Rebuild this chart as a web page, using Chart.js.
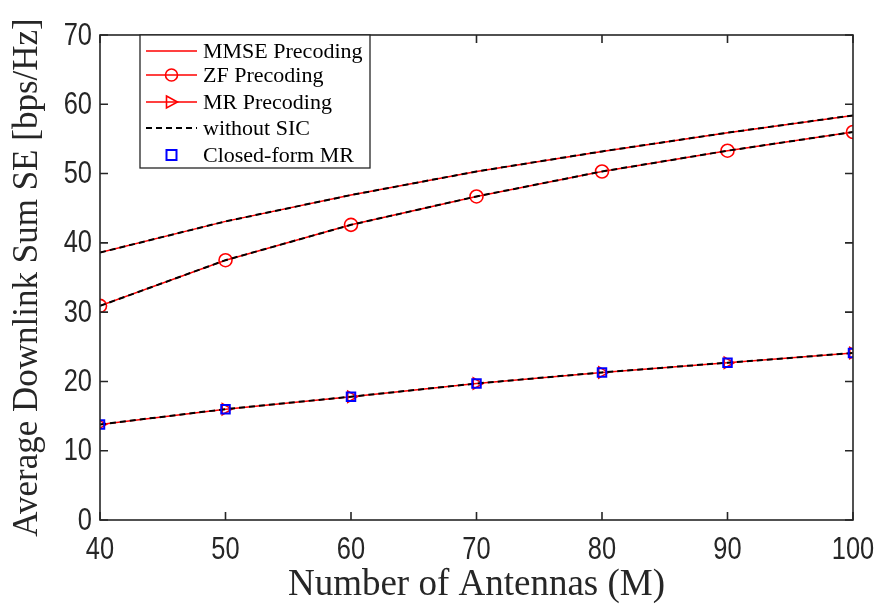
<!DOCTYPE html>
<html>
<head>
<meta charset="utf-8">
<script src="https://cdn.jsdelivr.net/npm/chart.js@4/dist/chart.umd.min.js"></script>
<style>
  html, body { margin: 0; padding: 0; background: #fff; }
  #wrap { width: 881px; height: 607px; position: relative; }
</style>
</head>
<body>
<div id="wrap"><canvas id="seChart" width="881" height="607"></canvas></div>
<script>
// Number of antennas on the x axis
const antennas = [40, 50, 60, 70, 80, 90, 100];
const xTicks = [40, 50, 60, 70, 80, 90, 100];
const yTicks = [0, 10, 20, 30, 40, 50, 60, 70];

// Sum SE with SIC
const mmseSE = [38.6, 43.1, 46.9, 50.3, 53.2, 55.9, 58.4];
const zfSE = [30.9, 37.5, 42.6, 46.7, 50.3, 53.3, 56.0];
const mrSE = [13.8, 16.0, 17.8, 19.7, 21.3, 22.7, 24.1];

// Without SIC - these sit right on top of the curves above
const mmseNoSicSE = [38.6, 43.1, 46.9, 50.3, 53.2, 55.9, 58.4];
const zfNoSicSE = [30.9, 37.5, 42.6, 46.7, 50.3, 53.3, 56.0];
const mrNoSicSE = [13.8, 16.0, 17.8, 19.7, 21.3, 22.7, 24.1];

// Closed-form MR markers
const closedFormMrSE = [13.8, 16.0, 17.8, 19.7, 21.3, 22.7, 24.1];

const legendLabels = ['MMSE Precoding', 'ZF Precoding', 'MR Precoding', 'without SIC', 'Closed-form MR'];

const AXIS_COLOR = '#262626';
const TICK_FONT = '"Liberation Sans", Arial, sans-serif';
const SERIF_FONT = '"Liberation Serif", "Times New Roman", serif';

function toPoints(values) {
  return antennas.map((m, i) => ({ x: m, y: values[i] }));
}

function redLine(values, pointStyle, rotation) {
  return {
    data: toPoints(values),
    borderColor: '#ff0000',
    backgroundColor: 'rgba(0,0,0,0)',
    borderWidth: 1.5,
    pointStyle: pointStyle || false,
    pointRadius: pointStyle ? 6.5 : 0,
    pointRotation: rotation || 0,
    pointBorderColor: '#ff0000',
    pointBorderWidth: 1.6,
    pointBackgroundColor: 'rgba(0,0,0,0)',
    tension: 0
  };
}

function blackDashed(values) {
  return {
    data: toPoints(values),
    borderColor: '#000000',
    borderWidth: 2,
    borderDash: [6, 4],
    pointRadius: 0,
    fill: false,
    tension: 0
  };
}

// narrow helvetica look: squeeze the digits a bit horizontally
function drawNarrowText(ctx, text, x, y, align) {
  const squeeze = 0.82;
  ctx.save();
  ctx.translate(x, y);
  ctx.scale(squeeze, 1);
  ctx.textAlign = align;
  ctx.fillText(text, 0, 0);
  ctx.restore();
}

// Frame with inward ticks on all four sides, MATLAB style, plus tick labels
const boxPlugin = {
  id: 'boxPlugin',
  afterDatasetsDraw(chart) {
    const { ctx, chartArea: a, scales } = chart;
    const tl = 8;
    ctx.save();
    ctx.strokeStyle = AXIS_COLOR;
    ctx.lineWidth = 1.6;
    ctx.strokeRect(a.left, a.top, a.right - a.left, a.bottom - a.top);
    ctx.beginPath();
    xTicks.forEach(v => {
      const px = scales.x.getPixelForValue(v);
      ctx.moveTo(px, a.bottom); ctx.lineTo(px, a.bottom - tl);
      ctx.moveTo(px, a.top); ctx.lineTo(px, a.top + tl);
    });
    yTicks.forEach(v => {
      const py = scales.y.getPixelForValue(v);
      ctx.moveTo(a.left, py); ctx.lineTo(a.left + tl, py);
      ctx.moveTo(a.right, py); ctx.lineTo(a.right - tl, py);
    });
    ctx.stroke();

    ctx.fillStyle = AXIS_COLOR;
    ctx.font = '31px ' + TICK_FONT;
    ctx.textBaseline = 'middle';
    xTicks.forEach(v => {
      drawNarrowText(ctx, String(v), scales.x.getPixelForValue(v), a.bottom + 30, 'center');
    });
    yTicks.forEach(v => {
      drawNarrowText(ctx, String(v), a.left - 8, scales.y.getPixelForValue(v) + 1, 'right');
    });
    ctx.restore();
  }
};

// Legend box in the upper left corner of the axes
const legendPlugin = {
  id: 'legendPlugin',
  afterDraw(chart) {
    const { ctx, chartArea: a } = chart;
    const boxX = a.left + 40, boxY = a.top, boxW = 230, boxH = 133;
    const rowY = [16, 40, 67, 93, 120];
    const x0 = boxX + 6, x1 = boxX + 57, tx = boxX + 63;
    ctx.save();
    ctx.fillStyle = '#ffffff';
    ctx.fillRect(boxX, boxY, boxW, boxH);
    ctx.strokeStyle = AXIS_COLOR;
    ctx.lineWidth = 1.3;
    ctx.strokeRect(boxX, boxY, boxW, boxH);

    rowY.forEach((dy, i) => {
      const y = boxY + dy;
      const mid = (x0 + x1) / 2;
      ctx.setLineDash([]);
      if (i < 3) {
        ctx.strokeStyle = '#ff0000';
        ctx.lineWidth = 1.5;
        ctx.beginPath(); ctx.moveTo(x0, y); ctx.lineTo(x1, y); ctx.stroke();
        if (i === 1) {
          ctx.lineWidth = 1.6;
          ctx.beginPath(); ctx.arc(mid, y, 6, 0, Math.PI * 2); ctx.stroke();
        } else if (i === 2) {
          ctx.lineWidth = 1.6;
          ctx.beginPath();
          ctx.moveTo(mid - 5, y - 6); ctx.lineTo(mid + 6, y); ctx.lineTo(mid - 5, y + 6); ctx.closePath();
          ctx.stroke();
        }
      } else if (i === 3) {
        ctx.strokeStyle = '#000000';
        ctx.lineWidth = 2;
        ctx.setLineDash([6, 4]);
        ctx.beginPath(); ctx.moveTo(x0, y); ctx.lineTo(x1, y); ctx.stroke();
        ctx.setLineDash([]);
      } else {
        ctx.strokeStyle = '#0000ff';
        ctx.lineWidth = 2;
        ctx.strokeRect(mid - 5, y - 5, 10, 10);
      }
      ctx.fillStyle = '#000000';
      ctx.font = '22px ' + SERIF_FONT;
      ctx.textBaseline = 'middle';
      ctx.textAlign = 'left';
      ctx.fillText(legendLabels[i], tx, y + 1);
    });
    ctx.restore();
  }
};

const ctx = document.getElementById('seChart').getContext('2d');
new Chart(ctx, {
  type: 'line',
  data: {
    datasets: [
      // first dataset is drawn last (on top)
      {
        data: toPoints(closedFormMrSE),
        showLine: false,
        pointStyle: 'rect',
        pointRadius: 6,
        pointBorderColor: '#0000ff',
        pointBorderWidth: 2,
        pointBackgroundColor: 'rgba(0,0,0,0)'
      },
      blackDashed(mmseNoSicSE),
      blackDashed(zfNoSicSE),
      blackDashed(mrNoSicSE),
      redLine(mmseSE),
      redLine(zfSE, 'circle'),
      redLine(mrSE, 'triangle', 90)
    ]
  },
  options: {
    responsive: false,
    animation: false,
    events: [],
    layout: { padding: { left: 0, right: 28, top: 35, bottom: 0 } },
    plugins: {
      legend: { display: false },
      tooltip: { enabled: false }
    },
    scales: {
      x: {
        type: 'linear',
        min: 40,
        max: 100,
        afterBuildTicks(scale) { scale.ticks = xTicks.map(v => ({ value: v })); },
        afterFit(scale) {
          scale.height = 87;
          scale.paddingLeft = 0;
          scale.paddingRight = 0;
        },
        grid: { display: false, drawTicks: false },
        border: { display: false },
        ticks: { display: false },
        title: {
          display: true,
          text: 'Number of Antennas (M)',
          color: AXIS_COLOR,
          font: { family: SERIF_FONT, size: 37 },
          padding: { top: 0, bottom: 0 }
        }
      },
      y: {
        min: 0,
        max: 70,
        afterBuildTicks(scale) { scale.ticks = yTicks.map(v => ({ value: v })); },
        afterFit(scale) {
          scale.width = 100;
          scale.paddingTop = 0;
          scale.paddingBottom = 0;
        },
        grid: { display: false, drawTicks: false },
        border: { display: false },
        ticks: { display: false },
        title: {
          display: true,
          text: 'Average Downlink Sum SE [bps/Hz]',
          color: AXIS_COLOR,
          font: { family: SERIF_FONT, size: 35 },
          padding: { top: 7, bottom: 0 }
        }
      }
    }
  },
  plugins: [boxPlugin, legendPlugin]
});
</script>
</body>
</html>
